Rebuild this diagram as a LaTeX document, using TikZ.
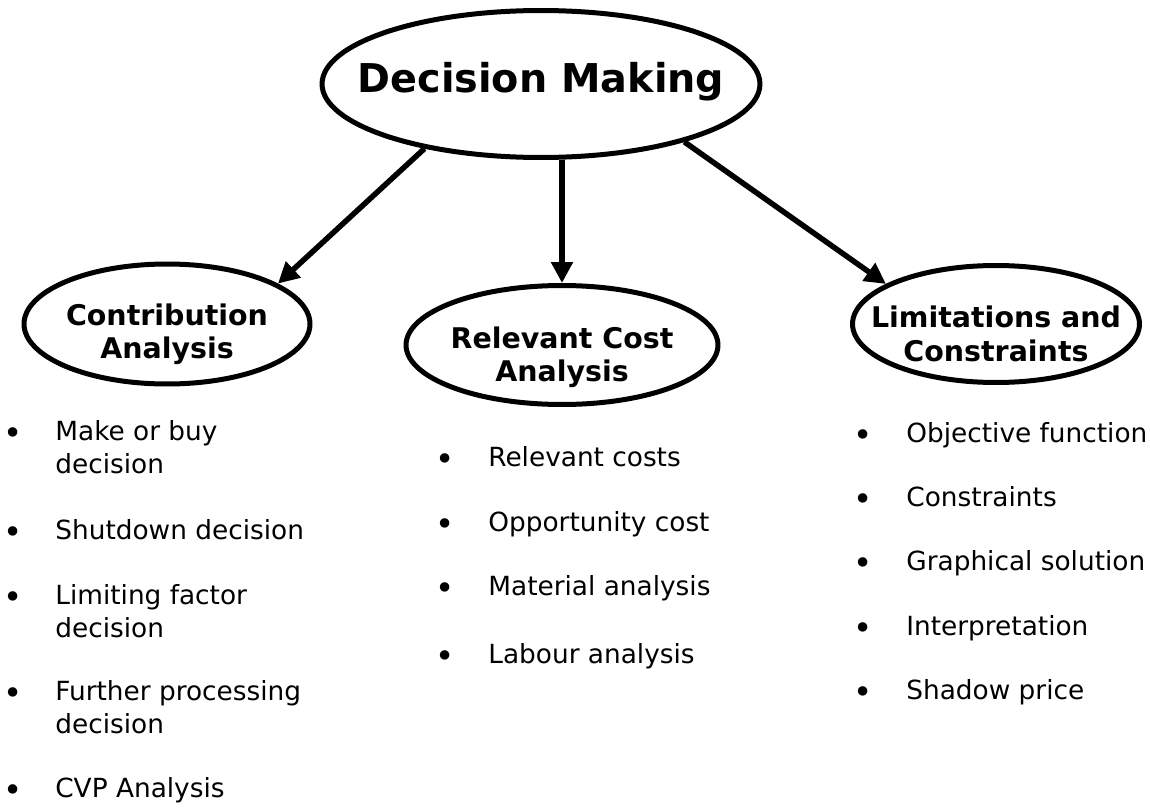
\documentclass[tikz,border=0pt]{standalone}
\usepackage{fontspec}
\setmainfont{DejaVu Sans}
\usepackage{tikz}
\usetikzlibrary{shapes.geometric, arrows.meta}
\tikzstyle{topic} = [ellipse, draw=black, line width=0.1cm, inner sep=0pt]
\tikzstyle{topictext} = [align=center, inner sep=0pt, font=\bfseries\fontsize{16.2}{19}\selectfont]
\tikzstyle{listitem} = [anchor=base west, inner sep=0pt, font=\fontsize{15}{18.8}\selectfont]
\tikzstyle{bullet} = [anchor=base, inner sep=0pt, yshift=-0.08cm, font=\fontsize{18.5}{18.8}\selectfont]
\tikzstyle{link} = [line width=0.11cm, -{Triangle[length=0.42cm, width=0.42cm]}]
% item text, first line on the baseline
\newcommand{\itemlines}[1]{\begin{tabular}[t]{@{}l@{}}#1\end{tabular}}

\begin{document}
\begin{tikzpicture}[x=0.02cm, y=-0.02cm]
        \useasboundingbox (0,0) rectangle (1150,808);

        % the four topics
        \node[topic, minimum width=8.76cm, minimum height=2.94cm,
              label={[topictext, font=\bfseries\fontsize{22.6}{27}\selectfont, yshift=0.04cm]center:Decision Making}] (dm) at (541,84) {};
        \node[topic, minimum width=5.72cm, minimum height=2.4cm,
              label={[topictext, yshift=-0.2cm]center:Contribution\\Analysis}] (ca) at (167,324) {};
        \node[topic, minimum width=6.24cm, minimum height=2.38cm,
              label={[topictext, yshift=-0.24cm]center:Relevant Cost\\Analysis}] (rc) at (562,345) {};
        \node[topic, minimum width=5.74cm, minimum height=2.34cm,
              label={[topictext, yshift=-0.2cm]center:Limitations and\\Constraints}] (lc) at (996,324) {};

        \draw[link] (dm.209) -- (ca.20);
        \draw[link] (dm.south -| rc.north) -- (rc.north);
        \draw[link] (dm.338) -- (lc.160);

        % bullet lists under each topic
        \foreach \y/\txt [count=\i] in {440/{Make or buy\\decision}, 539/{Shutdown decision},
                604/{Limiting factor\\decision}, 700/{Further processing\\decision}, 797/{CVP Analysis}} {
            \node[bullet] (cab\i) at (13,\y) {\textbullet};
            \node[listitem] (ca\i) at (55,\y) {\itemlines{\txt}};
        }
        \foreach \y/\txt [count=\i] in {466/{Relevant costs}, 531/{Opportunity cost},
                595/{Material analysis}, 663/{Labour analysis}} {
            \node[bullet] (rcb\i) at (445,\y) {\textbullet};
            \node[listitem] (rc\i) at (488,\y) {\txt};
        }
        \foreach \y/\txt [count=\i] in {442/{Objective function}, 506/{Constraints},
                570/{Graphical solution}, 635/{Interpretation}, 699/{Shadow price}} {
            \node[bullet] (lcb\i) at (863,\y) {\textbullet};
            \node[listitem] (lc\i) at (906,\y) {\txt};
        }
    \end{tikzpicture}
\end{document}
